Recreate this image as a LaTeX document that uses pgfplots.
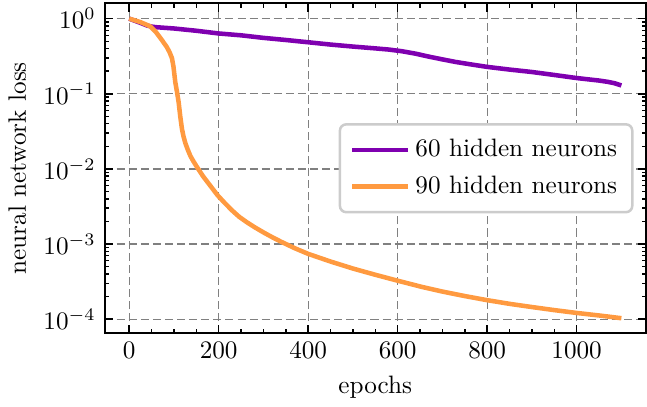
\documentclass[border=0pt]{standalone}
\usepackage{pgfplots}
\pgfplotsset{compat=1.18}
\definecolor{cpurple}{HTML}{7F00B0}
\definecolor{corange}{HTML}{FF9A40}
\begin{document}
\begin{tikzpicture}
\begin{axis}[
  scale only axis, width=215pt, height=131pt,
  ymode=log, xmin=-55, xmax=1155, ymin=6.5e-5, ymax=1.6,
  xtick={0,200,...,1000}, minor x tick num=3,
  x tick label style={/pgf/number format/1000 sep={}},
  ytick={1e-4,1e-3,1e-2,1e-1,1},
  tick align=inside, major tick length=3.3pt, minor tick length=1.7pt,
  every tick/.style={black, line width=0.6pt},
  grid=major, major grid style={black!50, dash pattern=on 3.2pt off 1.6pt, line width=0.5pt},
  axis line style={line width=0.8pt},
  xlabel={epochs}, ylabel={neural network loss},
  legend style={at={(rel axis cs:0.977,0.5)}, anchor=east, draw=black!20, rounded corners=2.5pt, line width=1pt, inner xsep=4pt, inner ysep=4pt, row sep=2pt, /tikz/every even column/.append style={column sep=5pt}},
  legend cell align=left,
  legend image code/.code={\draw[#1] (0cm,0cm) -- (0.78cm,0cm);},
]
\addplot[cpurple, line width=1.8pt, line join=round] coordinates {
(0,1.0) (10,0.95) (25,0.88) (40,0.81) (50,0.785) (60,0.77) (100,0.74) (150,0.69) (200,0.635)
(250,0.60) (300,0.555) (350,0.52) (400,0.485) (450,0.452) (500,0.425) (550,0.402)
(580,0.388) (610,0.368) (640,0.342) (670,0.312) (700,0.287) (730,0.265) (760,0.248) (800,0.228) (850,0.21) (900,0.195)
(950,0.178) (1000,0.162) (1050,0.15) (1070,0.144) (1085,0.138) (1100,0.129)
};
\addlegendentry{60 hidden neurons}
\addplot[corange, line width=1.8pt, line join=round] coordinates {
(0,1.0) (25,0.9) (47,0.79) (60,0.66) (72,0.53) (84,0.42) (90,0.36) (95.5,0.30) (99,0.23) (103,0.144)
(107,0.105) (110.6,0.077) (114,0.051) (118,0.034) (121.5,0.027) (125.6,0.022) (131,0.018) (137,0.0148) (144,0.0125) (152,0.0105)
(165,0.008) (182,0.0059) (197,0.0045) (212,0.0036) (230,0.0028) (246,0.0023)
(263,0.00195) (280,0.00168) (300,0.00143) (320,0.00123) (340,0.00107) (370,8.8e-4) (400,7.4e-4) (450,5.85e-4) (500,4.72e-4)
(550,3.9e-4) (600,3.25e-4) (655,2.68e-4) (700,2.33e-4) (750,2.03e-4) (800,1.79e-4)
(850,1.6e-4) (900,1.45e-4) (950,1.32e-4) (1000,1.21e-4) (1050,1.12e-4) (1100,1.03e-4)
};
\addlegendentry{90 hidden neurons}
\end{axis}
\end{tikzpicture}
\end{document}
